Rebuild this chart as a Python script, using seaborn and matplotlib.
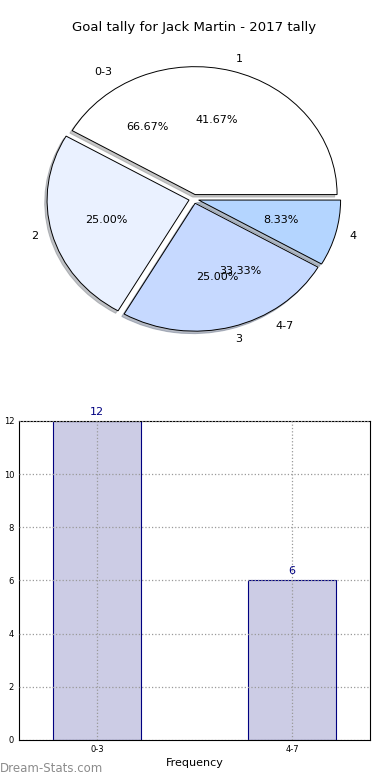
import matplotlib
matplotlib.use("Agg")
import matplotlib.pyplot as plt
import seaborn as sns
import pandas as pd

# data
goal_labels = ['1', '2', '3', '4']
goal_counts = [5, 3, 3, 1]
bin_labels = ['0-3', '4-7']
bin_counts = [12, 6]

pie_colors = ['#ffffff', '#eaf1ff', '#c6d9ff', '#b4d5ff']
bar_fill = '#ccccE5'
navy = '#000080'

sns.set_style("white")
plt.rcParams['font.family'] = ['DejaVu Sans']
plt.rcParams['text.color'] = 'black'
plt.rcParams['axes.labelcolor'] = 'black'
plt.rcParams['xtick.color'] = 'black'
plt.rcParams['ytick.color'] = 'black'

fig = plt.figure(figsize=(3.9, 7.8), dpi=100)

# %% pie
ax1 = fig.add_axes([0.042, 0.540, 0.910, 0.410])
# second pie (bins) only shows its texts
ax1.pie(bin_counts, labels=bin_labels, autopct='%.2f%%', explode=[0.05, 0.05],
        wedgeprops=dict(alpha=0), textprops=dict(fontsize=8))
ax1.pie(goal_counts, labels=goal_labels, autopct='%.2f%%', colors=pie_colors,
        explode=[0.035] * 4,
        shadow=dict(ox=-0.012, oy=-0.014, shade=0.45),
        wedgeprops=dict(edgecolor='black', linewidth=0.7),
        textprops=dict(fontsize=8))
ax1.set_aspect('auto')
ax1.set_xlim(-1.25, 1.25)
ax1.set_ylim(-1.25, 1.25)
ax1.set_title('Goal tally for Jack Martin - 2017 tally', fontsize=9.5, pad=6)

# %% bars
ax2 = fig.add_axes([0.0487, 0.0513, 0.900, 0.409])
df = pd.DataFrame({'bin': bin_labels, 'count': bin_counts})
sns.barplot(data=df, x='bin', y='count', width=0.45, color=bar_fill,
            saturation=1, edgecolor=navy, linewidth=0.8, ax=ax2)
for i, v in enumerate(bin_counts):
    ax2.text(i, v + 0.15, str(v), color=navy, ha='center', va='bottom', fontsize=8)
ax2.set_xlim(-0.4, 1.4)
ax2.set_ylim(0, 12)
ax2.set_yticks(range(0, 13, 2))
ax2.grid(True, linestyle=':', color='#999999', linewidth=0.9)
ax2.set_axisbelow(False)
ax2.tick_params(labelsize=6, direction='in', length=3)
for s in ax2.spines.values():
    s.set_color('black')
    s.set_linewidth(0.8)
ax2.set_xlabel('Frequency', fontsize=8, labelpad=3)
ax2.set_ylabel('Goals scored', fontsize=8)
ax2.yaxis.set_label_coords(-0.05, 0.5)

fig.text(0.0, 0.006, 'Dream-Stats.com', color='#8c8c8c', fontsize=8.5, ha='left', va='bottom')

fig.savefig('out.png', dpi=100)
